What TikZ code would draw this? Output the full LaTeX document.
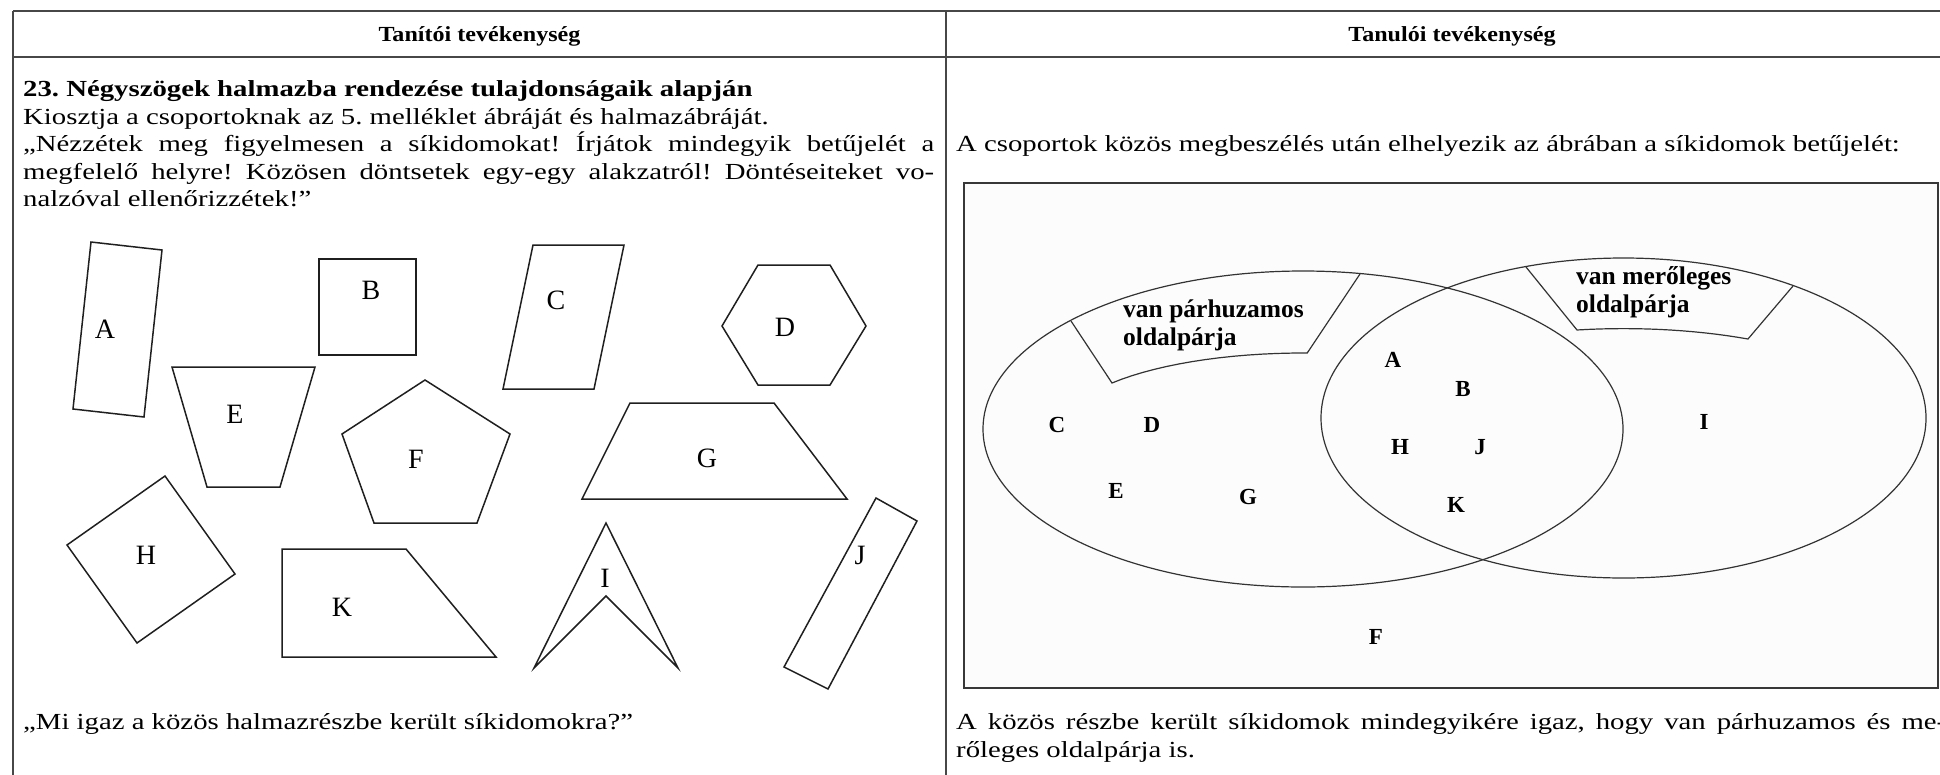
\documentclass[tikz,border=0pt]{standalone}
\usepackage{fontspec}
\setmainfont{Liberation Serif}[FakeStretch=1.25]
\newfontfamily\plainserif{Liberation Serif}
\newfontfamily\headserif{Liberation Serif}[FakeStretch=1.12]
\frenchspacing
\begin{document}
\begin{tikzpicture}[x=1pt,y=-1pt,
  tableline/.style={line width=1.6pt, draw=black!72},
  figline/.style={line width=1.5pt, draw=black!88, line join=miter},
  vennline/.style={line width=1.2pt, draw=black!80},
  head/.style={font=\headserif\bfseries\fontsize{21.5}{24}\selectfont, inner sep=0pt, anchor=base},
  body/.style={font=\fontsize{23}{27.5}\selectfont, inner sep=0pt, anchor=base west},
  figlabel/.style={font=\plainserif\fontsize{28}{28}\selectfont, inner sep=0pt},
  setname/.style={font=\plainserif\bfseries\fontsize{25.5}{26}\selectfont, inner sep=0pt, anchor=base west},
  member/.style={font=\plainserif\bfseries\fontsize{23}{23}\selectfont, inner sep=0pt}]
\useasboundingbox (0,0) rectangle (1940,774);

% table rules
\draw[tableline] (13,11) -- (1960,11);
\draw[tableline] (13,57) -- (1960,57);
\draw[tableline] (13,11) -- (13,790);
\draw[tableline] (946,11) -- (946,790);

% column headers
\node[head] (h1) at (479.5,41) {Tanítói tevékenység};
\node[head] (h2) at (1452,41) {Tanulói tevékenység};

% left column text
\node[body] (t1) at (23,96) {\bfseries 23. Négyszögek halmazba rendezése tulajdonságaik alapján};
\node[body] (t2) at (23,124) {Kiosztja a csoportoknak az 5. melléklet ábráját és halmazábráját.};
\node[body] (t3) at (23,151.5) {\makebox[911pt][s]{„Nézzétek meg figyelmesen a síkidomokat! Írjátok mindegyik betűjelét a}};
\node[body] (t4) at (23,179) {\makebox[911pt][s]{megfelelő helyre! Közösen döntsetek egy-egy alakzatról! Döntéseiteket vo-}};
\node[body] (t5) at (23,206.5) {nalzóval ellenőrizzétek!”};
\node[body] (t6) at (23,729) {„Mi igaz a közös halmazrészbe került síkidomokra?”};

% right column text
\node[body] (u1) at (956,151.5) {A csoportok közös megbeszélés után elhelyezik az ábrában a síkidomok betűjelét:};
\node[body] (u2) at (956,729) {\makebox[990pt][s]{A közös részbe került síkidomok mindegyikére igaz, hogy van párhuzamos és me-}};
\node[body] (u3) at (956,757) {rőleges oldalpárja is.};

% the plane figures
\draw[figline] (91,242) -- (162,250) -- (144,417) -- (73,409) -- cycle;
\draw[figline] (319,259) -- (416,259) -- (416,355) -- (319,355) -- cycle;
\draw[figline] (533,245) -- (624,245) -- (594,389) -- (503,389) -- cycle;
\draw[figline] (758,265) -- (830,265) -- (866,326) -- (830,385) -- (758,385) -- (722,326) -- cycle;
\draw[figline] (172,367) -- (315,367) -- (280,487) -- (207,487) -- cycle;
\draw[figline] (425,380) -- (510,434) -- (477,523) -- (374,523) -- (342,434) -- cycle;
\draw[figline] (630,403) -- (774,403) -- (847,499) -- (582,499) -- cycle;
\draw[figline] (165,476) -- (235,574) -- (137,643) -- (67,545) -- cycle;
\draw[figline] (606,523) -- (678,668) -- (606,596) -- (534,668) -- cycle;
\draw[figline] (876,498) -- (917,521) -- (828,689) -- (784,667) -- cycle;
\draw[figline] (282,549) -- (406,549) -- (496,657) -- (282,657) -- cycle;

\node[figlabel] (fa) at (105,329) {A};
\node[figlabel] (fb) at (371,290) {B};
\node[figlabel] (fc) at (556,300) {C};
\node[figlabel] (fd) at (785,327) {D};
\node[figlabel] (fe) at (235,414) {E};
\node[figlabel] (ff) at (416,459) {F};
\node[figlabel] (fg) at (707,458) {G};
\node[figlabel] (fh) at (146,555) {H};
\node[figlabel] (fi) at (605,578) {I};
\node[figlabel] (fj) at (860,555) {J};
\node[figlabel] (fk) at (342,607) {K};

% set diagram
\draw[line width=1.8pt, draw=black!78, fill=black!1] (964,183) rectangle (1938,688);
\draw[vennline] (1303,429) ellipse [x radius=320, y radius=158];
\draw[vennline] (1623.5,418) ellipse [x radius=302.5, y radius=160];

% name tabs of the two sets
\draw[vennline] (1071,321) -- (1112,383)
  -- plot[domain=142.7:89, samples=16, variable=\t] ({1303+240*cos(\t)}, {429-76*sin(\t)})
  -- (1360,274);
\draw[vennline] (1526,267) -- (1577,330)
  -- plot[domain=100.1:62.1, samples=16, variable=\t] ({1623.5+266*cos(\t)}, {418-89.4*sin(\t)})
  -- (1793,286);

\node[setname] (p1) at (1123,317) {van párhuzamos};
\node[setname] (p2) at (1123,345) {oldalpárja};
\node[setname] (m1) at (1576,284) {van merőleges};
\node[setname] (m2) at (1576,312) {oldalpárja};

\node[member] (sc) at (1057,425) {C};
\node[member] (sd) at (1152,425) {D};
\node[member] (se) at (1116,491) {E};
\node[member] (sg) at (1248,497) {G};
\node[member] (sa) at (1393,360) {A};
\node[member] (sb) at (1463,389) {B};
\node[member] (sh) at (1400,447) {H};
\node[member] (sj) at (1480,447) {J};
\node[member] (sk) at (1456,505) {K};
\node[member] (si) at (1704,422) {I};
\node[member] (sf) at (1376,637) {F};
\end{tikzpicture}
\end{document}
